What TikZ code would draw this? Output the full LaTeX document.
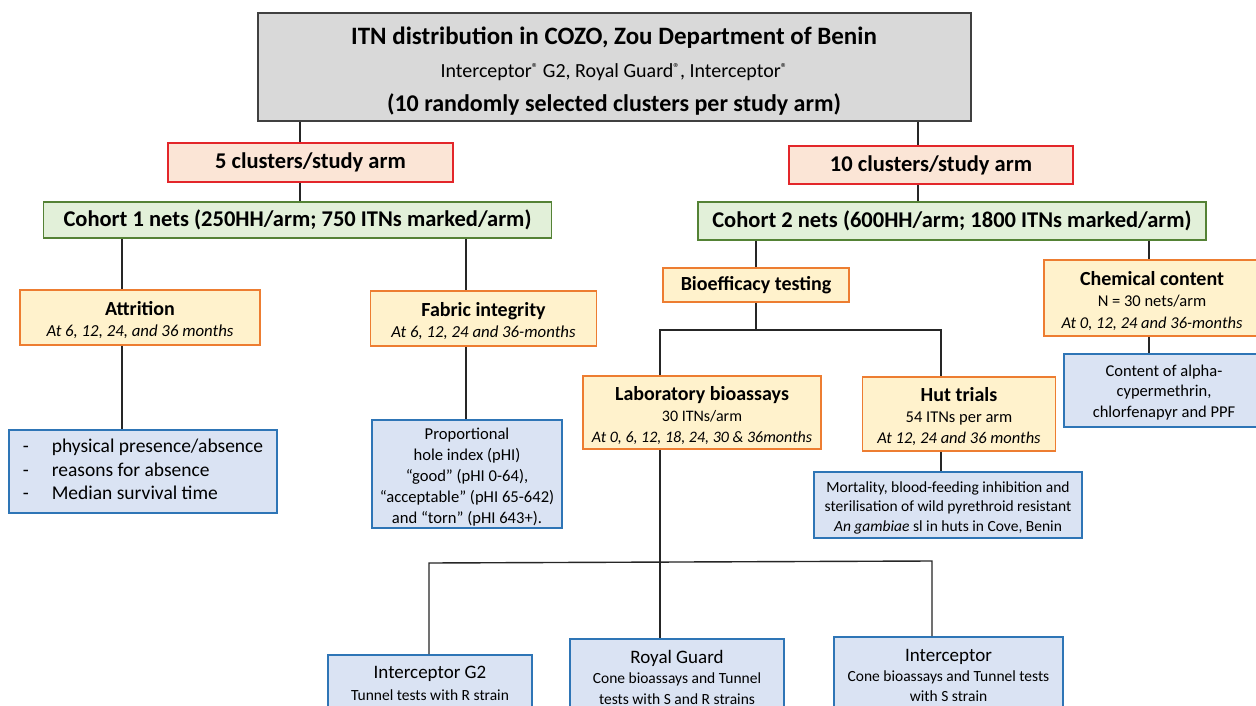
\documentclass[tikz,border=0pt]{standalone}
\usepackage{fontspec}
\setmainfont{Carlito}
\definecolor{grayfill}{HTML}{D9D9D9}
\definecolor{grayline}{HTML}{404040}
\definecolor{redfill}{HTML}{FBE5D6}
\definecolor{redline}{HTML}{E3262A}
\definecolor{greenfill}{HTML}{E2F0D9}
\definecolor{greenline}{HTML}{548235}
\definecolor{orfill}{HTML}{FFF2CC}
\definecolor{orline}{HTML}{ED7D31}
\definecolor{bluefill}{HTML}{DAE3F3}
\definecolor{blueline}{HTML}{2E75B6}
\definecolor{conn}{HTML}{262626}
\newcommand{\fs}[2]{\fontsize{#1}{#2}\selectfont}
\newcommand{\reg}{\raisebox{5pt}{\fs{13}{13}®}}
\newcommand{\up}[1]{\rule{0pt}{#1}}
\tikzset{
  box/.style={rectangle, inner sep=0pt, align=center, line width=1.6pt, text=black},
  graybox/.style={box, fill=grayfill, draw=grayline, line width=2pt},
  redbox/.style={box, fill=redfill, draw=redline},
  greenbox/.style={box, fill=greenfill, draw=greenline},
  orbox/.style={box, fill=orfill, draw=orline},
  bluebox/.style={box, fill=bluefill, draw=blueline},
  link/.style={draw=conn, line width=1.4pt}
}
\begin{document}
\begin{tikzpicture}[x=1pt,y=-1pt]
\useasboundingbox (0,0) rectangle (1256,706);
\clip (0,0) rectangle (1256,706);
\fill[white] (0,0) rectangle (1256,706);

% top
\node[graybox, minimum width=713pt, minimum height=108pt, font=\fs{20}{33.5}] (top) at (614,67)
  {{\fs{25}{30}\bfseries\up{25pt}ITN distribution in COZO, Zou Department of Benin}\\
   {\fs{20}{22}Interceptor\reg{} G2, Royal Guard\reg, Interceptor\reg}\\
   {\fs{24}{28}\bfseries (10 randomly selected clusters per study arm)}};

% level 2
\node[redbox, minimum width=285pt, minimum height=39pt, font=\fs{22.5}{26}\bfseries] (c5) at (310.5,162.5)
  {5 clusters/study arm};
\node[redbox, minimum width=284pt, minimum height=38pt, font=\fs{22.5}{26}\bfseries] (c10) at (931,165)
  {10 clusters/study arm};

% cohorts
\node[greenbox, minimum width=508pt, minimum height=36pt, font=\fs{22.5}{26}\bfseries] (c1) at (297.5,220)
  {Cohort 1 nets (250HH/arm; 750 ITNs marked/arm)};
\node[greenbox, minimum width=508pt, minimum height=38pt, font=\fs{22.5}{26}\bfseries] (c2) at (952,221)
  {Cohort 2 nets (600HH/arm; 1800 ITNs marked/arm)};

% orange boxes
\node[orbox, minimum width=240pt, minimum height=55pt, font=\fs{16.8}{21}] (att) at (140,317.5)
  {{\fs{20}{22}\bfseries\up{19pt}Attrition}\\ {\itshape At 6, 12, 24, and 36 months}};
\node[orbox, minimum width=226pt, minimum height=55pt, font=\fs{16.8}{21}] (fab) at (483.5,318.5)
  {{\fs{20}{22}\bfseries\up{19pt}Fabric integrity}\\ {\itshape At 6, 12, 24 and 36-months}};
\node[orbox, minimum width=186pt, minimum height=34pt, font=\fs{20}{22}\bfseries] (bio) at (756,285)
  {Bioefficacy testing};
\node[orbox, minimum width=216pt, minimum height=76pt, font=\fs{16.5}{21.5}] (chem) at (1152,298)
  {{\fs{20}{22}\bfseries\up{20pt}Chemical content}\\ N = 30 nets/arm\\ {\itshape At 0, 12, 24 and 36-months}};
\node[orbox, minimum width=238pt, minimum height=73pt, font=\fs{16}{21}] (lab) at (702,412.5)
  {{\fs{20}{22}\bfseries\up{20pt}Laboratory bioassays}\\ 30 ITNs/arm\\ {\itshape At 0, 6, 12, 18, 24, 30 \& 36months}};
\node[orbox, minimum width=193pt, minimum height=74pt, font=\fs{16.5}{21}] (hut) at (959,414)
  {{\fs{20}{22}\bfseries\up{20pt}Hut trials}\\ 54 ITNs per arm\\ {\itshape At 12, 24 and 36 months}};

% blue boxes
\node[bluebox, minimum width=268pt, minimum height=83pt, font=\fs{19.5}{23.5}] (b1) at (143,471.5)
  {\begin{tabular}{@{}p{29pt}@{}l@{}}
   -&physical presence/absence\\
   -&reasons for absence\\
   -&Median survival time
   \end{tabular}};
\node[bluebox, minimum width=190pt, minimum height=108pt, font=\fs{16.6}{21}] (b2) at (467,474)
  {\up{18pt}Proportional\\ hole index (pHI)\\ “good” (pHI 0-64),\\ “acceptable” (pHI 65-642)\\ and “torn” (pHI 643+).};
\node[bluebox, minimum width=200pt, minimum height=73pt, font=\fs{16.5}{20.5}] (cont) at (1164,390.5)
  {\up{15pt}Content of alpha-\\ cypermethrin,\\ chlorfenapyr and PPF};
\node[bluebox, minimum width=268pt, minimum height=66pt, font=\fs{15.5}{19.5}] (hb) at (948,505)
  {\up{16pt}Mortality, blood-feeding inhibition and\\ sterilisation of wild pyrethroid resistant\\ \textit{An gambiae} sl in huts in Cove, Benin};

% bottom boxes (cut off by the page edge)
\node[bluebox, minimum width=204pt, minimum height=57pt, font=\fs{15.5}{22}] (ig2) at (430,683.5)
  {{\fs{19}{22}Interceptor G2}\\ Tunnel tests with R strain};
\node[bluebox, minimum width=214pt, minimum height=76pt, font=\fs{15.5}{20.5}] (rg) at (677,677)
  {{\fs{19}{22}Royal Guard}\\ Cone bioassays and Tunnel\\ tests with S and R strains};
\node[bluebox, minimum width=229pt, minimum height=76pt, font=\fs{15.5}{20}] (int) at (948.5,675)
  {{\fs{19}{22}Interceptor}\\ Cone bioassays and Tunnel tests\\ with S strain};

% connector x positions
\coordinate (xL) at (300,0);
\coordinate (xR) at (918,0);
\coordinate (xA) at (122,0);
\coordinate (xF) at (466,0);
\coordinate (xC) at (1149,0);
\coordinate (jL) at (660,330);
\coordinate (jR) at (941,330);
\coordinate (bL) at (429,563);
\coordinate (bR) at (932,561);

% connectors
\draw[link] (top.south -| xL) -- (c5.north -| xL);
\draw[link] (c5.south -| xL) -- (c1.north -| xL);
\draw[link] (top.south -| xR) -- (c10.north -| xR);
\draw[link] (c10.south -| xR) -- (c2.north -| xR);
\draw[link] (c1.south -| xA) -- (att.north -| xA);
\draw[link] (att.south -| xA) -- (b1.north -| xA);
\draw[link] (c1.south -| xF) -- (fab.north -| xF);
\draw[link] (fab.south -| xF) -- (b2.north -| xF);
\draw[link] (c2.south -| bio.north) -- (bio.north);
\draw[link] (c2.south -| xC) -- (chem.north -| xC);
\draw[link] (chem.south -| xC) -- (cont.north -| xC);
\draw[link] (bio.south) -- (bio.south |- jL);
\draw[link] (lab.north -| jL) -- (jL) -- (jR) -- (hut.north -| jR);
\draw[link] (hut.south -| jR) -- (hb.north -| jR);
\draw[link] (lab.south -| jL) -- (rg.north -| jL);
\draw[link] (ig2.north -| bL) -- (bL) -- (bR) -- (int.north -| bR);
\end{tikzpicture}
\end{document}
